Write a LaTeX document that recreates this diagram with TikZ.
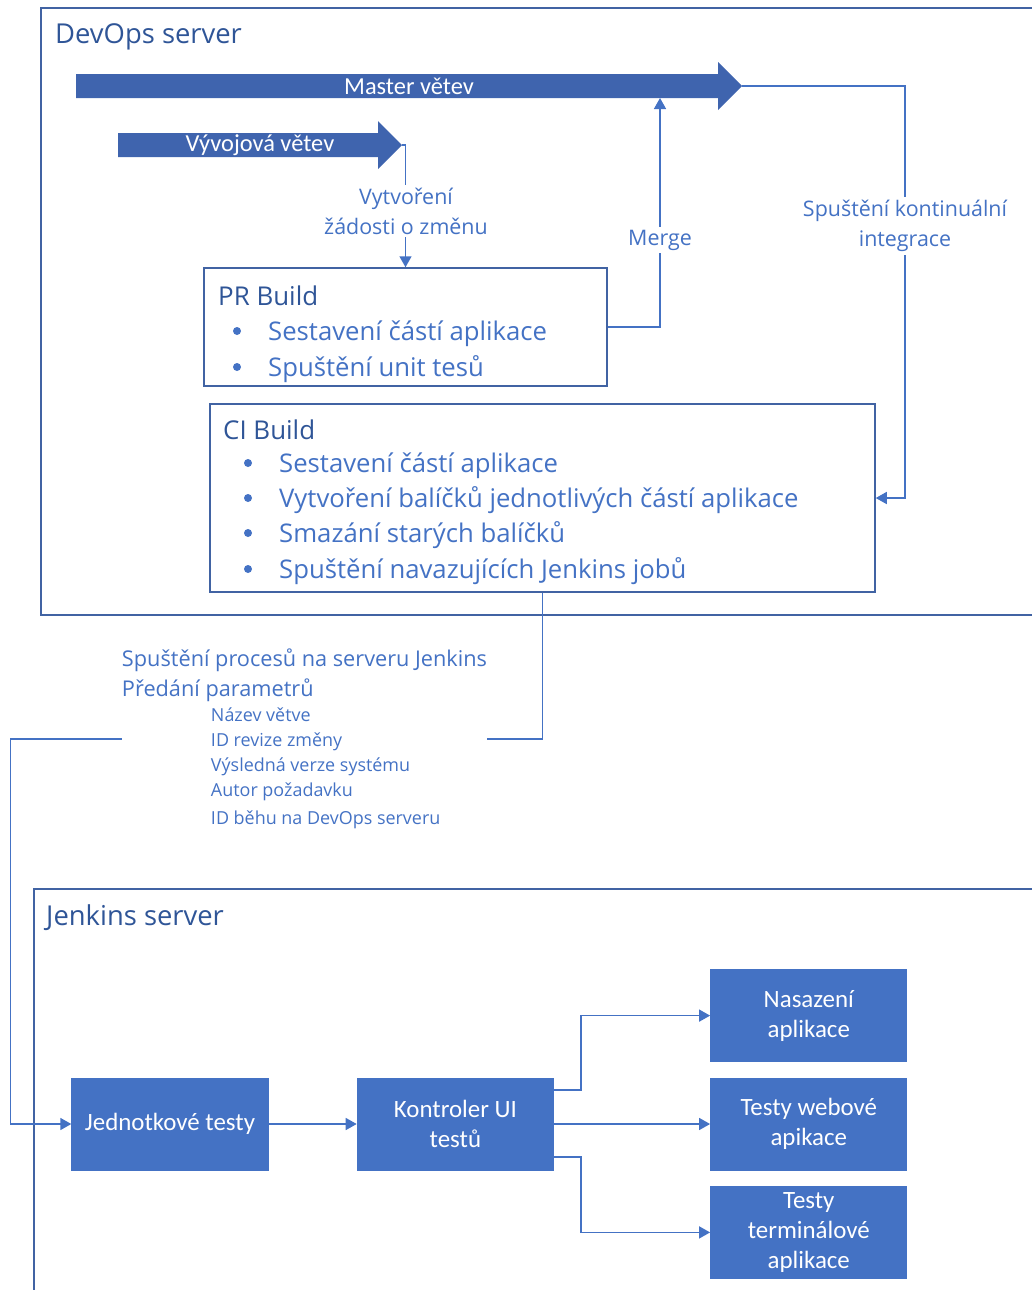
\documentclass[tikz,border=0pt]{standalone}
\usepackage{fontspec}
\setmainfont{Open Sans}
\newfontfamily\carlito{Carlito}
\usetikzlibrary{arrows.meta,positioning}
\definecolor{lineblue}{HTML}{4472C4}
\definecolor{frameblue}{HTML}{4163A3}
\definecolor{titleblue}{HTML}{2F5597}
\definecolor{branchblue}{HTML}{3F64AE}
\tikzset{
  serverframe/.style={draw=frameblue,line width=1.5bp},
  conn/.style={draw=lineblue,line width=1.5bp},
  buildbox/.style={draw=frameblue,line width=1.5bp,inner sep=0pt},
  jobbox/.style={fill=lineblue,minimum width=197bp,minimum height=93bp,inner sep=0pt,text=white,align=center,font=\carlito\fontsize{25}{30}\selectfont},
  branchlabel/.style={text=white,inner sep=0pt,font=\carlito\fontsize{24.5}{28}\selectfont},
  servertitle/.style={text=titleblue,inner sep=0pt,anchor=base west,font=\fontsize{27.5}{30}\selectfont},
  buildtitle/.style={servertitle,font=\fontsize{26}{30}\selectfont},
  bulletitem/.style={text=lineblue,inner sep=0pt,anchor=base west,font=\fontsize{25.8}{30}\selectfont},
  edgelabel/.style={text=lineblue,fill=white,inner sep=3bp,align=center,font=\fontsize{21.5}{30}\selectfont},
  paramsbox/.style={text=lineblue,inner sep=0pt},
}
\begin{document}
\begin{tikzpicture}[x=1bp,y=-1bp,>={Triangle[length=11bp,width=12bp]},line join=miter]
  \useasboundingbox (0,0) rectangle (1032,1290);
%%
  % Server: DevOps
  \draw[serverframe] (1036,8) -- (41,8) -- (41,615) -- (1036,615);
  \node[servertitle] (devops) at (55,43) {DevOps server};
  % Branch: master
  \fill[branchblue] (76,74) -- (718,74) -- (718,62) -- (742,86) -- (718,110) -- (718,98) -- (76,98) -- cycle;
  \node[branchlabel] (master) at (409,86) {Master větev};
  \coordinate (mastertip) at (742,86);
  \coordinate (masterfoot) at (660,98);
  % Branch: devel
  \fill[branchblue] (118,133) -- (378,133) -- (378,121) -- (402,145) -- (378,169) -- (378,157) -- (118,157) -- cycle;
  \node[branchlabel] (devel) at (260,145) {Vývojová větev};
  \coordinate (develtip) at (402,145);
  % Node: pr
  \node[buildbox,minimum width=403bp,minimum height=118bp] (pr) at (405.5,327) {};
  \node[buildtitle] (prtitle) at (218,305) {PR Build};
  \fill[lineblue] (237,331) circle (4bp);
  \node[bulletitem] (pr1) at (268,340) {Sestavení částí aplikace};
  \fill[lineblue] (237,367) circle (4bp);
  \node[bulletitem] (pr2) at (268,376) {Spuštění unit tesů};
  % Node: ci
  \node[buildbox,minimum width=665bp,minimum height=188bp] (ci) at (542.5,498) {};
  \node[buildtitle] (cititle) at (223,439) {CI Build};
  \fill[lineblue] (248,463) circle (4bp);
  \node[bulletitem] (ci1) at (279,472) {Sestavení částí aplikace};
  \fill[lineblue] (248,498) circle (4bp);
  \node[bulletitem] (ci2) at (279,507) {Vytvoření balíčků jednotlivých částí aplikace};
  \fill[lineblue] (248,533) circle (4bp);
  \node[bulletitem] (ci3) at (279,542) {Smazání starých balíčků};
  \fill[lineblue] (248,569) circle (4bp);
  \node[bulletitem] (ci4) at (279,578) {Spuštění navazujících Jenkins jobů};
  % Edge: devel -> pr
  \draw[conn,->] (develtip) -| (pr.north);
  \node[edgelabel] (prrequest) at (406,211) {Vytvoření\\žádosti o změnu};
  % Edge: pr -> master
  \draw[conn,->] (pr.east) -| (masterfoot);
  \node[edgelabel] (merge) at (660,240) {Merge};
  % Edge: master -> ci
  \draw[conn,->] (mastertip) -- (905,86) |- (ci.east);
  \node[edgelabel] (cistart) at (905,226) {Spuštění kontinuální\\integrace};
%%
  % Server: Jenkins
  \draw[serverframe] (1036,889) -- (34,889) -- (34,1292);
  \node[servertitle] (jenkins) at (46,925) {Jenkins server};
  \node[jobbox] (unit) at (170,1124) {Jednotkové testy};
  \node[jobbox,right=88bp of unit] (ctrl) {Kontroler UI\\testů};
  \node[jobbox,right=156bp of ctrl] (web) {Testy webové\\apikace};
  \node[jobbox,above=15bp of web] (deploy) {Nasazení\\aplikace};
  \node[jobbox,below=15bp of web] (term) {Testy\\terminálové\\aplikace};
  % Edge: ci -> unit
  \node[paramsbox] (params) at (304.5,739) {\parbox{365bp}{\fontsize{21.8}{30}\selectfont
    Spuštění procesů na serveru Jenkins\\
    Předání parametrů\par
    \fontsize{18}{25}\selectfont\leftskip=89bp
    Název větve\\
    ID revize změny\\
    Výsledná verze systému\\
    Autor požadavku\\[4bp]
    ID běhu na DevOps serveru\par}};
  \draw[conn] (ci.south) |- (params.east);
  \draw[conn,->] (params.west) -| ([xshift=-61bp]unit.west) -- (unit.west);
  % Edge: unit -> ctrl
  \draw[conn,->] (unit) -- (ctrl);
  % Edge: ctrl -> deploy
  \draw[conn,->] ([yshift=34bp]ctrl.east) -- ++(27,0) |- (deploy.west);
  % Edge: ctrl -> web
  \draw[conn,->] (ctrl) -- (web);
  % Edge: ctrl -> term
  \draw[conn,->] ([yshift=-33bp]ctrl.east) -- ++(27,0) |- (term.west);
%
\end{tikzpicture}
\end{document}
